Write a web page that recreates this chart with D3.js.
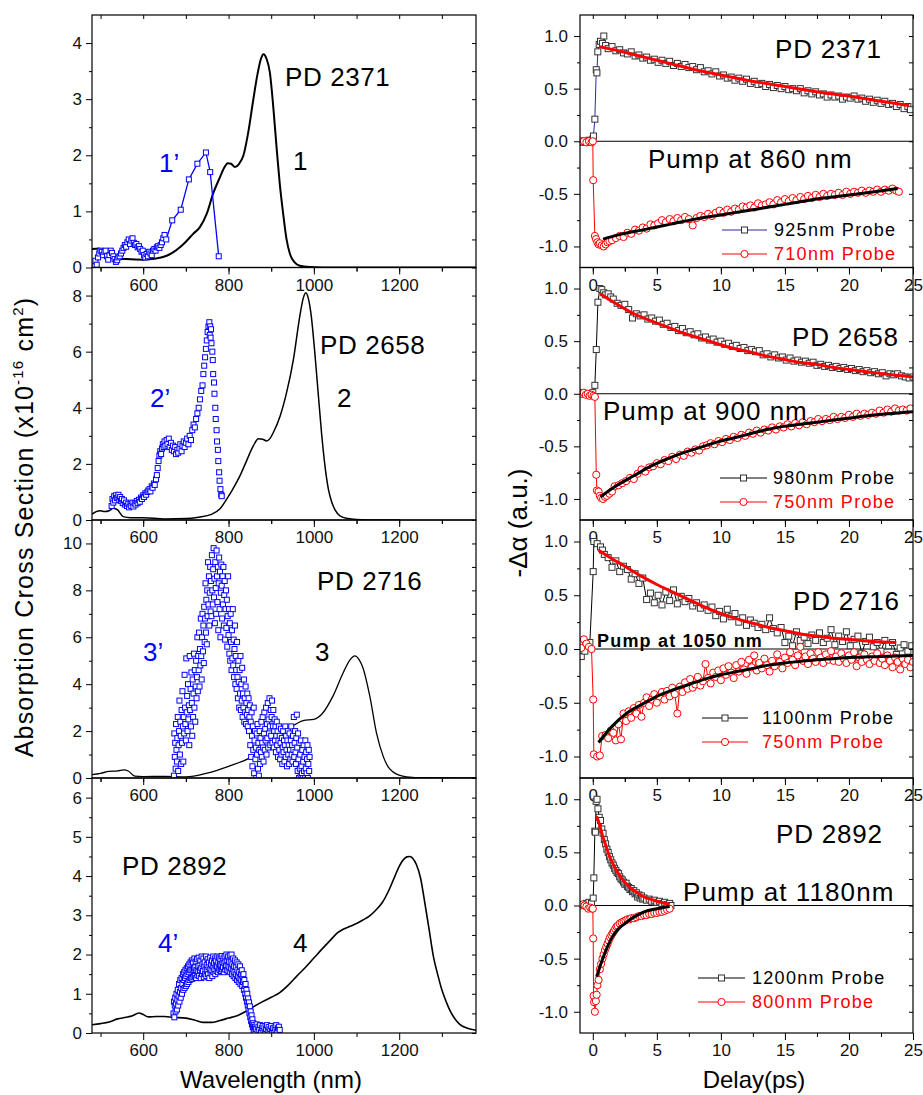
<!DOCTYPE html>
<html>
<head>
<meta charset="utf-8">
<script src="https://cdn.jsdelivr.net/npm/d3@7"></script>
<style>
  body { margin: 0; background: #fff; }
  svg text { font-family: "Liberation Sans", Arial, Helvetica, sans-serif; }
</style>
</head>
<body>
<svg id="chart" width="923" height="1095"></svg>
<script>
// ---------- tick labels ----------
var wavelengthTicks = [600, 800, 1000, 1200];
var wavelengthMinor = [500, 700, 900, 1100, 1300];
var delayTicks = [0, 5, 10, 15, 20, 25];
var delayMinor = [2.5, 7.5, 12.5, 17.5, 22.5];
var absTicks = [[0, 1, 2, 3, 4], [0, 2, 4, 6, 8], [0, 2, 4, 6, 8, 10], [0, 1, 2, 3, 4, 5, 6]];
var absMinor = [[0.5, 1.5, 2.5, 3.5], [1, 3, 5, 7], [1, 3, 5, 7, 9], [0.5, 1.5, 2.5, 3.5, 4.5, 5.5]];
var dAlphaTicks = [-1, -0.5, 0, 0.5, 1];
var dAlphaMinor = [-0.75, -0.25, 0.25, 0.75];

// ---------- linear absorption (black curves), [nm, cross section] ----------
var abs2371 = [[480,0.33],[497,0.34],[505,0.27],[520,0.2],[540,0.16],[560,0.15],[600,0.14],[630,0.16],[655,0.21],[670,0.27],[686,0.36],[700,0.46],[717,0.6],[733,0.72],[749,0.96],[764,1.32],[780,1.61],[790,1.78],[798,1.86],[806,1.85],[815,1.79],[824,1.84],[835,2.0],[846,2.4],[858,2.99],[868,3.45],[876,3.72],[882,3.8],[889,3.72],[897,3.47],[905,2.85],[913,2.1],[920,1.5],[928,0.96],[936,0.5],[944,0.24],[955,0.09],[967,0.03],[990,0.01],[1050,0.0],[1380,0.0]];
var abs2658 = [[480,0.21],[490,0.3],[500,0.33],[510,0.3],[520,0.33],[530,0.42],[540,0.36],[553,0.12],[570,0.08],[600,0.08],[650,0.04],[700,0.05],[730,0.1],[760,0.2],[780,0.4],[796,0.75],[810,1.1],[827,1.58],[842,2.1],[858,2.64],[870,2.9],[880,2.88],[889,2.82],[897,2.9],[905,3.12],[921,3.71],[936,4.54],[952,5.72],[967,7.26],[975,7.9],[981,8.1],[987,7.9],[994,7.26],[1002,6.0],[1010,4.54],[1018,3.1],[1026,1.93],[1034,1.1],[1042,0.63],[1050,0.35],[1061,0.15],[1080,0.05],[1100,0.02],[1150,0.0],[1202,0.0]];
var abs2716 = [[480,0.14],[500,0.2],[520,0.28],[540,0.3],[555,0.35],[565,0.3],[580,0.08],[600,0.06],[650,0.07],[700,0.05],[750,0.21],[800,0.5],[850,0.86],[900,1.5],[950,2.21],[975,2.45],[1000,2.5],[1020,2.75],[1045,3.5],[1069,4.5],[1085,5.05],[1096,5.21],[1106,5.05],[1115,4.7],[1131,3.5],[1147,1.9],[1163,0.9],[1175,0.45],[1186,0.25],[1200,0.12],[1217,0.05],[1260,0.01],[1380,0.0]];
var abs2892 = [[480,0.21],[500,0.24],[520,0.28],[540,0.36],[560,0.4],[575,0.44],[590,0.51],[600,0.47],[612,0.41],[630,0.42],[650,0.42],[670,0.4],[700,0.38],[720,0.33],[740,0.27],[760,0.27],[780,0.32],[800,0.38],[820,0.44],[840,0.55],[860,0.68],[880,0.8],[900,0.91],[920,1.03],[940,1.22],[960,1.45],[980,1.67],[1000,1.91],[1020,2.15],[1040,2.38],[1055,2.55],[1070,2.65],[1085,2.72],[1100,2.79],[1115,2.88],[1130,2.98],[1145,3.13],[1160,3.32],[1175,3.62],[1190,4.0],[1200,4.25],[1210,4.42],[1218,4.49],[1225,4.5],[1232,4.45],[1240,4.3],[1250,3.95],[1260,3.32],[1270,2.65],[1280,1.96],[1290,1.5],[1300,1.1],[1310,0.8],[1320,0.55],[1330,0.37],[1342,0.22],[1360,0.12],[1380,0.07]];

// ---------- excited-state absorption (blue squares), [nm, cross section] ----------
var esa2371 = [[486,0.02],[488,0.12],[491,0.05],[494,0.18],[497,0.25],[500,0.3],[503,0.28],[506,0.22],[509,0.28],[512,0.3],[515,0.2],[518,0.14],[521,0.22],[524,0.3],[527,0.26],[530,0.2],[533,0.15],[536,0.1],[539,0.13],[542,0.18],[545,0.2],[548,0.25],[551,0.3],[554,0.35],[557,0.4],[560,0.37],[563,0.45],[566,0.5],[569,0.42],[572,0.48],[575,0.52],[578,0.44],[581,0.4],[584,0.42],[587,0.36],[590,0.38],[593,0.33],[596,0.28],[599,0.3],[602,0.22],[605,0.18],[608,0.24],[611,0.2],[614,0.28],[617,0.25],[620,0.22],[623,0.3],[626,0.33],[629,0.3],[632,0.36],[635,0.38],[638,0.35],[641,0.4],[644,0.45],[647,0.52],[650,0.58],[654,0.5],[668,0.84],[688,1.03],[707,1.57],[727,1.85],[747,2.05],[757,1.70],[777,0.20]];
var esa2658 = [[526,0.5],[528,0.75],[530,0.62],[532,0.85],[534,0.7],[536,0.88],[538,0.78],[540,0.8],[542,0.9],[544,0.72],[546,0.82],[548,0.68],[550,0.75],[552,0.6],[555,0.7],[557,0.55],[560,0.62],[562,0.5],[565,0.58],[567,0.45],[570,0.55],[572,0.5],[575,0.62],[577,0.48],[580,0.6],[582,0.55],[585,0.68],[587,0.6],[590,0.72],[592,0.65],[595,0.8],[597,0.75],[600,0.88],[602,0.82],[605,0.95],[607,0.9],[610,1.0],[612,1.05],[615,1.1],[617,1.02],[620,1.2],[622,1.15],[625,1.3],[627,1.25],[630,1.45],[632,1.6],[634,1.85],[636,2.1],[638,2.3],[640,2.45],[642,2.35],[644,2.55],[646,2.7],[648,2.6],[650,2.8],[652,2.65],[655,2.85],[657,2.7],[660,2.9],[662,2.6],[665,2.75],[667,2.5],[670,2.65],[672,2.45],[675,2.6],[677,2.35],[680,2.5],[682,2.4],[685,2.55],[687,2.7],[690,2.45],[692,2.65],[695,2.8],[697,2.6],[700,2.75],[703,2.9],[706,2.7],[709,3.0],[712,2.85],[715,3.2],[718,3.4],[721,3.3],[724,3.6],[727,3.8],[730,4.0],[733,4.3],[736,4.6],[739,4.8],[741,5.2],[743,5.5],[745,5.8],[747,6.1],[749,6.4],[751,6.7],[753,6.9],[755,7.05],[756,6.6],[757,6.9],[758,6.5],[759,6.8],[760,6.3],[762,6.0],[763,5.7],[764,5.2],[766,4.9],[767,4.5],[769,4.0],[770,3.6],[772,3.2],[773,2.8],[775,2.5],[776,2.1],[778,1.7],[779,1.4],[781,1.1],[783,0.9],[784,0.85]];
var esa2716 = [[672,0.1],[673,1.9],[674,0.9],[675,1.5],[676,0.4],[677,2.3],[678,1.2],[679,0.7],[680,1.7],[681,2.6],[682,0.3],[683,1.4],[684,2.0],[685,3.3],[686,1.0],[687,2.4],[688,1.8],[689,0.6],[690,2.9],[691,1.5],[692,3.7],[693,2.2],[694,0.7],[695,2.6],[696,1.9],[697,4.4],[698,3.0],[699,2.3],[700,1.6],[701,5.1],[702,2.8],[703,3.5],[704,2.0],[705,4.0],[706,2.5],[707,3.1],[708,1.4],[709,5.2],[710,2.9],[711,3.8],[712,2.2],[713,4.5],[714,3.2],[715,1.8],[716,4.2],[717,2.6],[718,3.6],[719,5.3],[720,3.0],[721,4.6],[722,2.4],[723,3.9],[724,5.0],[725,3.4],[726,4.3],[727,6.0],[728,3.7],[729,5.2],[730,4.6],[731,6.2],[732,3.9],[733,5.5],[734,4.8],[735,6.8],[736,5.2],[737,4.2],[738,6.0],[739,7.0],[740,5.4],[741,6.5],[742,4.9],[743,7.3],[744,5.8],[745,6.8],[746,8.3],[747,6.2],[748,7.6],[749,5.7],[750,8.0],[751,6.9],[752,9.2],[753,7.4],[754,8.6],[755,6.5],[756,7.9],[757,9.0],[758,7.1],[759,8.4],[760,6.9],[761,9.5],[762,8.0],[763,7.4],[764,8.9],[765,9.8],[766,7.7],[767,8.5],[768,6.6],[769,9.2],[770,8.1],[771,7.0],[772,9.7],[773,8.6],[774,7.5],[775,9.0],[776,6.3],[777,8.3],[778,9.4],[779,7.2],[780,8.8],[781,6.0],[782,7.9],[783,9.1],[784,8.2],[785,6.8],[786,8.6],[787,7.4],[788,9.0],[789,6.5],[790,7.8],[791,8.4],[792,5.9],[793,7.2],[794,8.0],[795,6.4],[796,7.6],[797,5.6],[798,6.9],[799,8.6],[800,6.1],[801,7.2],[802,5.3],[803,6.6],[804,5.0],[805,7.0],[806,5.8],[807,4.6],[808,6.3],[809,5.1],[810,7.2],[811,4.8],[812,5.9],[813,4.3],[814,5.5],[815,6.5],[816,4.0],[817,5.2],[818,4.6],[819,3.8],[820,5.8],[821,4.3],[822,3.4],[823,5.0],[824,4.1],[825,3.0],[826,4.6],[827,3.6],[828,5.2],[829,2.9],[830,4.0],[831,3.3],[832,4.7],[833,2.6],[834,3.6],[835,3.0],[836,4.2],[837,2.4],[838,3.4],[839,2.8],[840,3.9],[841,2.3],[842,3.2],[843,2.7],[844,3.6],[845,2.2],[846,2.9],[847,3.4],[848,2.0],[849,2.6],[850,3.1],[851,1.4],[852,2.4],[853,0.9],[854,2.8],[855,1.8],[856,0.5],[857,2.2],[858,1.2],[859,3.0],[860,0.2],[861,1.6],[862,2.0],[863,0.8],[864,1.3],[865,0.0],[866,1.9],[867,1.0],[868,2.3],[869,0.4],[870,1.5],[871,0.1],[872,1.2],[873,2.0],[874,0.6],[875,1.7],[876,1.1],[877,2.4],[878,0.9],[879,1.5],[880,2.6],[881,1.3],[882,0.7],[883,1.9],[884,2.8],[885,1.2],[886,2.1],[887,1.6],[888,3.0],[889,1.0],[890,2.3],[891,1.7],[892,3.2],[893,1.3],[894,2.5],[895,1.9],[896,3.4],[897,2.2],[898,1.4],[899,2.9],[900,1.8],[901,2.6],[902,3.3],[903,1.5],[904,2.2],[905,2.9],[906,1.3],[907,2.0],[908,2.5],[909,1.6],[910,2.2],[911,1.1],[912,1.8],[913,2.4],[914,1.4],[915,2.0],[916,0.9],[917,1.6],[918,2.2],[919,1.2],[920,1.8],[921,0.8],[922,1.5],[923,2.1],[924,1.0],[925,1.7],[926,0.6],[927,1.3],[928,2.0],[929,1.1],[930,1.6],[931,0.7],[932,1.4],[933,2.2],[934,0.9],[935,1.8],[936,1.2],[937,0.5],[938,1.6],[939,2.0],[940,1.0],[941,1.4],[942,0.6],[943,1.9],[944,1.2],[945,0.8],[946,1.6],[947,2.2],[948,1.0],[949,1.4],[950,0.7],[951,1.8],[952,1.2],[953,2.6],[954,0.9],[955,1.5],[956,2.0],[957,1.1],[958,0.6],[959,1.7],[960,2.7],[961,1.3],[962,0.3],[963,1.9],[964,0.8],[965,0.0],[966,1.5],[967,0.4],[968,1.0],[969,0.1],[970,1.6],[971,0.5],[972,0.2],[973,1.2],[974,0.0],[975,0.7],[976,1.4],[977,0.3],[978,0.9],[979,0.0],[980,1.6],[981,0.4],[982,1.1],[983,0.2],[984,0.8],[985,1.4],[986,0.0],[987,0.6],[988,1.2],[989,0.3],[990,0.9]];
var esa2892 = [[671,0.5],[672,0.8],[673,0.4],[674,0.7],[675,0.9],[676,0.55],[677,0.75],[678,1.0],[679,0.6],[680,0.85],[681,1.1],[682,0.7],[683,0.95],[684,1.25],[685,0.8],[686,1.05],[687,1.35],[688,0.9],[689,1.15],[690,1.4],[691,1.0],[692,1.25],[693,1.5],[694,1.1],[695,1.35],[696,1.55],[697,1.15],[698,1.4],[699,1.6],[700,1.2],[701,1.45],[702,1.65],[703,1.25],[704,1.5],[705,1.7],[706,1.3],[707,1.55],[708,1.75],[709,1.35],[710,1.6],[711,1.8],[712,1.4],[713,1.6],[714,1.85],[715,1.38],[716,1.62],[717,1.8],[718,1.42],[719,1.65],[720,1.9],[721,1.45],[722,1.68],[723,1.82],[724,1.4],[725,1.6],[726,1.88],[727,1.47],[728,1.7],[729,1.55],[730,1.92],[731,1.45],[732,1.72],[733,1.6],[734,1.85],[735,1.4],[736,1.66],[737,1.95],[738,1.5],[739,1.75],[740,1.58],[741,1.9],[742,1.42],[743,1.7],[744,1.8],[745,1.5],[746,1.62],[747,1.95],[748,1.45],[749,1.73],[750,1.6],[751,1.88],[752,1.5],[753,1.68],[754,1.8],[755,1.4],[756,1.62],[757,1.92],[758,1.52],[759,1.75],[760,1.6],[761,1.85],[762,1.45],[763,1.7],[764,1.95],[765,1.55],[766,1.78],[767,1.62],[768,1.9],[769,1.5],[770,1.72],[771,1.85],[772,1.58],[773,1.7],[774,1.95],[775,1.55],[776,1.8],[777,1.65],[778,1.92],[779,1.6],[780,1.75],[781,1.88],[782,1.58],[783,1.72],[784,1.96],[785,1.62],[786,1.8],[787,1.68],[788,1.9],[789,1.55],[790,1.78],[791,1.95],[792,1.62],[793,1.82],[794,1.7],[795,2.0],[796,1.6],[797,1.85],[798,1.72],[799,1.95],[800,1.58],[801,1.82],[802,1.68],[803,1.98],[804,1.55],[805,1.8],[806,1.65],[807,2.0],[808,1.5],[809,1.75],[810,1.62],[811,1.9],[812,1.45],[813,1.7],[814,1.55],[815,1.85],[816,1.4],[817,1.68],[818,1.5],[819,1.8],[820,1.35],[821,1.6],[822,1.45],[823,1.75],[824,1.3],[825,1.55],[826,1.4],[827,1.7],[828,1.25],[829,1.5],[830,1.35],[831,1.6],[832,1.2],[833,1.45],[834,1.3],[835,1.5],[836,1.1],[837,1.35],[838,1.2],[839,1.0],[840,1.25],[841,0.9],[842,1.1],[843,0.8],[844,1.0],[845,0.7],[846,0.88],[847,0.6],[848,0.78],[849,0.5],[850,0.68],[851,0.4],[852,0.55],[853,0.3],[854,0.45],[855,0.22],[856,0.35],[857,0.15],[858,0.25],[859,0.08],[860,0.2],[861,0.05],[862,0.15],[864,0.1],[866,0.22],[868,0.04],[870,0.16],[872,0.08],[874,0.2],[876,0.02],[878,0.12],[880,0.18],[882,0.05],[884,0.14],[886,0.0],[888,0.1],[890,0.2],[892,0.06],[894,0.15],[896,0.02],[898,0.1],[900,0.18],[902,0.05],[904,0.12],[906,0.0],[908,0.14],[910,0.08],[912,0.2],[914,0.04],[916,0.12],[918,0.16],[920,0.08]];

// ---------- pump-probe kinetics, [delay ps, -delta alpha] ----------
var sq2371 = [[-0.9,0.0],[-0.75,-0.01],[-0.6,0.0],[-0.45,-0.01],[-0.3,0.01],[-0.15,0.0],[0.0,0.02],[0.05,0.05],[0.16,0.21],[0.27,0.68],[0.32,0.65],[0.39,0.85],[0.5,0.92],[0.6,0.95],[0.75,0.93],[0.86,1.0],[1.0,0.91],[1.2,0.88],[1.5,0.90],[1.8,0.86],[2.1,0.87],[2.4,0.84],[2.7,0.83],[3.0,0.85],[3.3,0.81],[3.6,0.82],[3.9,0.79],[4.2,0.80],[4.5,0.77],[4.8,0.78],[5.1,0.75],[5.4,0.77],[5.7,0.74],[6.0,0.76],[6.3,0.72],[6.6,0.74],[6.9,0.71],[7.2,0.73],[7.5,0.70],[7.8,0.71],[8.1,0.68],[8.4,0.70],[8.7,0.66],[9.0,0.67],[9.3,0.64],[9.6,0.66],[9.9,0.62],[10.2,0.63],[10.5,0.60],[10.8,0.61],[11.1,0.58],[11.4,0.60],[11.7,0.57],[12.0,0.59],[12.3,0.55],[12.6,0.57],[12.9,0.54],[13.2,0.55],[13.5,0.52],[13.8,0.54],[14.1,0.51],[14.4,0.53],[14.7,0.50],[15.0,0.52],[15.3,0.49],[15.6,0.50],[15.9,0.48],[16.2,0.50],[16.5,0.46],[16.8,0.48],[17.1,0.45],[17.4,0.47],[17.7,0.44],[18.0,0.45],[18.3,0.42],[18.6,0.44],[18.9,0.42],[19.2,0.43],[19.5,0.40],[19.8,0.42],[20.1,0.41],[20.4,0.43],[20.7,0.40],[21.0,0.41],[21.3,0.38],[21.6,0.40],[21.9,0.37],[22.2,0.39],[22.5,0.36],[22.8,0.38],[23.1,0.35],[23.4,0.36],[23.7,0.33],[24.0,0.35],[24.3,0.31],[24.6,0.33],[24.8,0.30]];
var ci2371 = [[-0.9,0.0],[-0.7,0.0],[-0.5,-0.01],[-0.3,0.0],[-0.1,-0.01],[0.0,0.0],[0.03,-0.37],[0.16,-0.90],[0.25,-0.93],[0.35,-0.96],[0.45,-0.98],[0.55,-0.97],[0.7,-0.99],[0.85,-1.0],[1.0,-0.98],[1.15,-0.96],[1.3,-0.95],[1.5,-0.94],[1.8,-0.92],[2.1,-0.90],[2.4,-0.91],[2.7,-0.87],[3.0,-0.88],[3.3,-0.84],[3.6,-0.85],[3.9,-0.82],[4.2,-0.83],[4.5,-0.79],[4.8,-0.80],[5.1,-0.78],[5.4,-0.75],[5.7,-0.77],[6.0,-0.74],[6.3,-0.76],[6.6,-0.73],[6.9,-0.75],[7.2,-0.72],[7.5,-0.74],[7.8,-0.80],[8.1,-0.73],[8.4,-0.71],[8.7,-0.72],[9.0,-0.69],[9.3,-0.71],[9.6,-0.68],[9.9,-0.66],[10.2,-0.68],[10.5,-0.65],[10.8,-0.67],[11.1,-0.64],[11.4,-0.65],[11.7,-0.62],[12.0,-0.63],[12.3,-0.61],[12.6,-0.63],[12.9,-0.59],[13.2,-0.61],[13.5,-0.60],[13.8,-0.58],[14.1,-0.60],[14.4,-0.56],[14.7,-0.58],[15.0,-0.55],[15.3,-0.57],[15.6,-0.54],[15.9,-0.56],[16.2,-0.53],[16.5,-0.55],[16.8,-0.52],[17.1,-0.54],[17.4,-0.51],[17.7,-0.53],[18.0,-0.50],[18.3,-0.52],[18.6,-0.50],[18.9,-0.51],[19.2,-0.49],[19.5,-0.51],[19.8,-0.48],[20.1,-0.50],[20.4,-0.48],[20.7,-0.49],[21.0,-0.47],[21.3,-0.49],[21.6,-0.47],[21.9,-0.48],[22.2,-0.46],[22.5,-0.48],[22.8,-0.46],[23.1,-0.47],[23.4,-0.45],[23.7,-0.47],[23.9,-0.48]];
var fitSq2371 = [[0.5,0.90],[2,0.86],[4,0.80],[6,0.74],[8,0.68],[10,0.63],[12,0.58],[14,0.54],[16,0.50],[18,0.46],[20,0.43],[22,0.39],[24.7,0.34]];
var fitCi2371 = [[0.8,-0.93],[2,-0.89],[4,-0.84],[6,-0.79],[8,-0.74],[10,-0.70],[12,-0.66],[14,-0.62],[16,-0.58],[18,-0.54],[20,-0.51],[22,-0.48],[23.8,-0.45]];

var sq2658 = [[-0.9,0.0],[-0.6,0.0],[-0.3,0.0],[0.0,0.01],[0.16,0.08],[0.27,0.42],[0.4,0.87],[0.55,1.0],[0.7,0.99],[0.85,0.96],[1.0,0.94],[1.2,0.95],[1.4,0.92],[1.6,0.90],[1.9,0.86],[2.2,0.84],[2.5,0.85],[2.8,0.80],[3.1,0.72],[3.4,0.76],[3.7,0.74],[4.0,0.75],[4.3,0.71],[4.6,0.72],[4.9,0.69],[5.2,0.70],[5.5,0.66],[5.8,0.67],[6.1,0.63],[6.4,0.64],[6.7,0.60],[7.0,0.62],[7.3,0.58],[7.6,0.59],[7.9,0.56],[8.2,0.57],[8.5,0.53],[8.8,0.54],[9.1,0.51],[9.4,0.52],[9.7,0.49],[10.0,0.50],[10.3,0.47],[10.6,0.48],[10.9,0.45],[11.2,0.46],[11.5,0.43],[11.8,0.44],[12.1,0.41],[12.4,0.42],[12.7,0.40],[13.0,0.41],[13.3,0.37],[13.6,0.38],[13.9,0.35],[14.2,0.37],[14.5,0.34],[14.8,0.35],[15.1,0.32],[15.4,0.34],[15.7,0.31],[16.0,0.32],[16.3,0.30],[16.6,0.31],[16.9,0.29],[17.2,0.30],[17.5,0.27],[17.8,0.28],[18.1,0.26],[18.4,0.27],[18.7,0.25],[19.0,0.26],[19.3,0.24],[19.6,0.25],[19.9,0.23],[20.2,0.24],[20.5,0.22],[20.8,0.23],[21.1,0.21],[21.4,0.22],[21.7,0.20],[22.0,0.21],[22.3,0.19],[22.6,0.20],[22.9,0.17],[23.2,0.19],[23.5,0.18],[23.8,0.19],[24.1,0.17],[24.4,0.16],[24.7,0.15],[25.0,0.16]];
var ci2658 = [[-1.0,0.01],[-0.85,0.0],[-0.7,0.01],[-0.55,-0.01],[-0.4,0.0],[-0.25,-0.02],[-0.1,-0.01],[0.05,-0.02],[0.16,-0.03],[0.27,-0.77],[0.32,-0.92],[0.45,-0.93],[0.55,-0.97],[0.65,-0.99],[0.8,-1.0],[0.95,-0.98],[1.1,-0.97],[1.3,-0.95],[1.5,-0.93],[1.7,-0.88],[2.0,-0.87],[2.3,-0.85],[2.6,-0.83],[2.9,-0.80],[3.2,-0.81],[3.5,-0.76],[3.8,-0.72],[4.1,-0.74],[4.4,-0.70],[4.7,-0.69],[5.0,-0.66],[5.3,-0.67],[5.6,-0.63],[5.9,-0.64],[6.2,-0.60],[6.5,-0.62],[6.8,-0.58],[7.1,-0.59],[7.4,-0.55],[7.7,-0.56],[8.0,-0.53],[8.3,-0.54],[8.6,-0.50],[8.9,-0.49],[9.2,-0.47],[9.5,-0.48],[9.8,-0.45],[10.1,-0.46],[10.4,-0.43],[10.7,-0.44],[11.0,-0.41],[11.3,-0.42],[11.6,-0.39],[11.9,-0.40],[12.2,-0.37],[12.5,-0.38],[12.8,-0.35],[13.1,-0.37],[13.4,-0.34],[13.7,-0.35],[14.0,-0.32],[14.3,-0.34],[14.6,-0.31],[14.9,-0.32],[15.2,-0.29],[15.5,-0.31],[15.8,-0.28],[16.1,-0.30],[16.4,-0.27],[16.7,-0.29],[17.0,-0.26],[17.3,-0.27],[17.6,-0.24],[17.9,-0.26],[18.2,-0.24],[18.5,-0.25],[18.8,-0.22],[19.1,-0.24],[19.4,-0.22],[19.7,-0.23],[20.0,-0.20],[20.3,-0.22],[20.6,-0.19],[20.9,-0.21],[21.2,-0.19],[21.5,-0.20],[21.8,-0.18],[22.1,-0.19],[22.4,-0.16],[22.7,-0.18],[23.0,-0.15],[23.3,-0.17],[23.6,-0.14],[23.9,-0.16],[24.2,-0.15],[24.5,-0.16],[24.8,-0.14]];
var fitSq2658 = [[0.6,0.95],[1.5,0.88],[3.05,0.77],[4.4,0.70],[5.7,0.64],[7,0.58],[8.3,0.53],[9.6,0.48],[11,0.43],[12.2,0.40],[13.5,0.36],[14.8,0.33],[16.1,0.30],[17.4,0.28],[18.8,0.25],[20.1,0.23],[21.4,0.21],[23,0.185],[25,0.16]];
var fitCi2658 = [[0.6,-0.98],[1.5,-0.9],[3.2,-0.78],[4.5,-0.69],[5.8,-0.62],[7.1,-0.56],[8.4,-0.51],[9.7,-0.46],[11,-0.42],[12.3,-0.38],[13.6,-0.34],[14.9,-0.31],[16.2,-0.29],[17.5,-0.27],[18.8,-0.25],[20.1,-0.23],[21.4,-0.21],[23,-0.19],[25,-0.17]];

var sq2716 = [[-0.9,-0.07],[-0.62,-0.02],[-0.44,0.04],[-0.23,0.06],[0.03,0.72],[0.08,1.0],[0.34,0.98],[0.6,0.95],[0.75,0.92],[0.9,0.88],[1.2,0.85],[1.5,0.76],[1.8,0.82],[2.1,0.72],[2.4,0.77],[2.7,0.74],[3.0,0.65],[3.3,0.70],[3.6,0.61],[3.9,0.66],[4.2,0.46],[4.5,0.52],[4.8,0.43],[5.1,0.50],[5.4,0.41],[5.7,0.53],[6.0,0.45],[6.3,0.55],[6.6,0.42],[6.9,0.49],[7.2,0.44],[7.5,0.47],[7.8,0.40],[8.1,0.43],[8.4,0.38],[8.7,0.41],[9.0,0.36],[9.3,0.39],[9.6,0.31],[9.9,0.35],[10.2,0.28],[10.5,0.37],[10.8,0.30],[11.1,0.33],[11.4,0.25],[11.7,0.29],[12.0,0.22],[12.3,0.27],[12.6,0.24],[12.9,0.20],[13.2,0.23],[13.5,0.18],[13.8,0.29],[14.1,0.19],[14.4,0.15],[14.7,0.20],[15.0,0.06],[15.3,0.12],[15.6,0.03],[15.9,0.16],[16.2,0.08],[16.5,0.11],[16.8,0.05],[17.1,0.13],[17.4,0.08],[17.7,0.15],[18.0,0.06],[18.3,0.10],[18.6,0.18],[18.9,0.04],[19.2,0.12],[19.5,0.07],[19.8,0.16],[20.1,0.03],[20.4,0.09],[20.7,0.12],[21.0,-0.04],[21.3,0.07],[21.6,0.11],[21.9,0.02],[22.2,0.06],[22.5,-0.02],[22.8,0.08],[23.1,0.03],[23.4,0.06],[23.7,-0.05],[24.0,0.01],[24.3,0.04],[24.6,-0.02],[24.9,0.03]];
var ci2716 = [[-0.9,0.01],[-0.7,0.09],[-0.5,0.05],[-0.3,0.02],[-0.1,0.0],[0.03,-0.47],[0.08,-0.98],[0.34,-1.0],[0.55,-0.99],[0.73,-0.81],[1.0,-0.80],[1.2,-0.83],[1.4,-0.76],[1.6,-0.78],[1.8,-0.85],[2.0,-0.70],[2.2,-0.84],[2.4,-0.60],[2.6,-0.67],[2.8,-0.58],[3.0,-0.64],[3.2,-0.55],[3.4,-0.60],[3.6,-0.52],[3.8,-0.63],[4.0,-0.50],[4.2,-0.45],[4.4,-0.53],[4.6,-0.47],[4.8,-0.42],[5.0,-0.50],[5.2,-0.44],[5.4,-0.40],[5.6,-0.47],[5.8,-0.39],[6.0,-0.44],[6.2,-0.36],[6.4,-0.42],[6.6,-0.60],[6.8,-0.35],[7.0,-0.40],[7.2,-0.31],[7.4,-0.37],[7.6,-0.28],[7.8,-0.36],[8.0,-0.33],[8.2,-0.26],[8.4,-0.34],[8.6,-0.30],[8.8,-0.14],[9.0,-0.27],[9.2,-0.32],[9.4,-0.22],[9.6,-0.26],[9.8,-0.20],[10.0,-0.29],[10.2,-0.18],[10.4,-0.24],[10.6,-0.16],[10.8,-0.22],[11.0,-0.27],[11.2,-0.15],[11.4,-0.21],[11.6,-0.12],[11.8,-0.19],[12.0,-0.23],[12.2,-0.10],[12.4,-0.17],[12.6,-0.06],[12.8,-0.20],[13.0,-0.13],[13.2,-0.18],[13.4,-0.09],[13.6,-0.15],[13.8,-0.21],[14.0,-0.11],[14.2,-0.16],[14.4,-0.05],[14.6,-0.12],[14.8,-0.18],[15.0,-0.08],[15.2,-0.13],[15.4,-0.03],[15.6,-0.10],[15.8,-0.15],[16.0,-0.06],[16.2,0.02],[16.4,-0.11],[16.6,-0.07],[16.8,-0.14],[17.0,-0.04],[17.2,-0.09],[17.4,-0.12],[17.6,-0.03],[17.8,-0.08],[18.0,-0.13],[18.2,-0.05],[18.4,-0.10],[18.6,-0.02],[18.8,-0.11],[19.0,-0.07],[19.2,-0.12],[19.4,-0.04],[19.6,-0.09],[19.8,-0.13],[20.0,-0.06],[20.2,-0.10],[20.4,-0.03],[20.6,-0.16],[20.8,-0.08],[21.0,-0.12],[21.2,-0.05],[21.4,-0.10],[21.6,-0.14],[21.8,-0.07],[22.0,-0.11],[22.2,-0.04],[22.4,-0.13],[22.6,-0.09],[22.8,-0.15],[23.0,-0.06],[23.2,-0.11],[23.4,-0.17],[23.6,-0.08],[23.8,-0.12],[24.0,-0.19],[24.2,-0.09],[24.4,-0.14],[24.6,-0.10],[24.8,-0.17],[25.0,-0.12]];
var fitSq2716 = [[0.45,0.92],[1.5,0.84],[2.5,0.77],[3.75,0.68],[5,0.60],[6.25,0.53],[7.5,0.46],[8.75,0.39],[10,0.33],[11.25,0.28],[12.5,0.24],[13.75,0.20],[15,0.17],[16.25,0.14],[17.5,0.12],[18.75,0.10],[20,0.09],[21.8,0.07],[23.7,0.06]];
var fitCi2716 = [[0.45,-0.87],[1.5,-0.72],[2.5,-0.61],[3.75,-0.52],[5,-0.44],[6.25,-0.38],[7.5,-0.33],[8.75,-0.28],[10,-0.24],[11.25,-0.21],[12.5,-0.18],[13.75,-0.15],[15,-0.13],[16.25,-0.115],[17.5,-0.10],[18.75,-0.09],[20,-0.08],[22.5,-0.07],[25,-0.06]];

var sq2892 = [[-0.9,0.0],[-0.7,0.01],[-0.5,0.02],[-0.3,0.03],[-0.1,0.02],[0.03,0.07],[0.08,0.26],[0.16,0.70],[0.2,0.69],[0.26,0.98],[0.33,1.0],[0.4,0.91],[0.5,0.83],[0.6,0.80],[0.7,0.72],[0.8,0.68],[0.9,0.62],[1.0,0.58],[1.1,0.53],[1.2,0.50],[1.3,0.46],[1.4,0.43],[1.5,0.40],[1.6,0.38],[1.7,0.35],[1.8,0.33],[1.9,0.31],[2.0,0.30],[2.1,0.27],[2.2,0.25],[2.3,0.24],[2.4,0.22],[2.5,0.20],[2.6,0.21],[2.7,0.18],[2.8,0.17],[2.9,0.15],[3.0,0.16],[3.1,0.13],[3.2,0.14],[3.3,0.11],[3.4,0.12],[3.5,0.08],[3.6,0.10],[3.7,0.07],[3.8,0.09],[3.9,0.06],[4.0,0.07],[4.2,0.05],[4.4,0.06],[4.6,0.04],[4.8,0.05],[5.0,0.03],[5.2,0.04],[5.4,0.02],[5.6,0.03],[5.8,0.01],[6.0,0.02],[6.1,0.0]];
var ci2892 = [[-0.95,0.0],[-0.8,0.01],[-0.65,0.0],[-0.5,-0.01],[-0.35,-0.03],[-0.2,-0.02],[-0.05,-0.03],[0.0,-0.03],[0.03,-0.31],[0.06,-0.85],[0.1,-0.91],[0.16,-1.0],[0.24,-0.9],[0.3,-0.84],[0.36,-0.75],[0.45,-0.70],[0.55,-0.60],[0.65,-0.55],[0.75,-0.50],[0.85,-0.46],[0.95,-0.42],[1.05,-0.39],[1.15,-0.36],[1.25,-0.33],[1.35,-0.30],[1.45,-0.28],[1.55,-0.26],[1.65,-0.24],[1.75,-0.22],[1.85,-0.20],[1.95,-0.19],[2.1,-0.17],[2.25,-0.16],[2.4,-0.15],[2.55,-0.14],[2.7,-0.13],[2.85,-0.13],[3.0,-0.12],[3.2,-0.12],[3.4,-0.11],[3.6,-0.10],[3.8,-0.10],[4.0,-0.09],[4.2,-0.09],[4.4,-0.08],[4.6,-0.08],[4.8,-0.07],[5.0,-0.07],[5.2,-0.06],[5.4,-0.06],[5.6,-0.05],[5.8,-0.04],[6.0,-0.03]];
var fitSq2892 = [[0.3,0.84],[0.5,0.77],[0.75,0.66],[1,0.57],[1.25,0.48],[1.5,0.41],[1.75,0.35],[2,0.30],[2.5,0.22],[3,0.16],[3.5,0.12],[4,0.08],[4.5,0.06],[5,0.04],[5.5,0.025],[6,0.01]];
var fitCi2892 = [[0.3,-0.67],[0.6,-0.56],[1,-0.43],[1.5,-0.30],[2,-0.22],[2.5,-0.17],[3,-0.125],[3.5,-0.09],[4,-0.06],[5,-0.03],[6,-0.01]];

// ---------- layout ----------
var svg = d3.select("#chart");
svg.append("rect").attr("width", 923).attr("height", 1095).attr("fill", "#fff");

var rows = [[15, 267.5], [267.5, 520], [520, 778], [778, 1033]];
var xLeft = d3.scaleLinear().domain([480, 1380]).range([92, 476]);
var xRight = d3.scaleLinear().domain([-1, 25]).range([580, 913]);
var defs = svg.append("defs");

function styleAxis(sel) {
  sel.select(".domain").remove();
  sel.selectAll(".tick line").attr("stroke", "#000").attr("stroke-width", 1);
  sel.selectAll(".tick text").attr("fill", "#111").style("font-size", "17px")
    .style("font-family", '"Liberation Sans", Arial, sans-serif');
}

function frame(g, x, y, xMaj, xMin, yMaj, yMin, yFmt, yPad) {
  var xa = x.range()[0], xb = x.range()[1], yb = y.range()[0], ya = y.range()[1];
  function add(axis, tx, ty) {
    g.append("g").attr("transform", "translate(" + tx + "," + ty + ")").call(axis).call(styleAxis);
  }
  add(d3.axisBottom(x).tickValues(xMaj).tickSize(7).tickPadding(4).tickFormat(function(d) { return String(d); }), 0, yb);
  add(d3.axisBottom(x).tickValues(xMin).tickSize(4).tickFormat(""), 0, yb);
  add(d3.axisTop(x).tickValues(xMaj.concat(xMin)).tickSize(-4).tickFormat(""), 0, ya);
  add(d3.axisLeft(y).tickValues(yMaj).tickSize(6).tickPadding(yPad).tickFormat(yFmt), xa, 0);
  add(d3.axisLeft(y).tickValues(yMin).tickSize(3).tickFormat(""), xa, 0);
  add(d3.axisRight(y).tickValues(yMaj.concat(yMin)).tickSize(-4).tickFormat(""), xb, 0);
  g.append("rect").attr("x", xa).attr("y", ya).attr("width", xb - xa).attr("height", yb - ya)
    .attr("fill", "none").attr("stroke", "#000").attr("stroke-width", 1.2);
}

function clipFor(id, x, y) {
  defs.append("clipPath").attr("id", id).append("rect")
    .attr("x", x.range()[0]).attr("y", y.range()[1])
    .attr("width", x.range()[1] - x.range()[0]).attr("height", y.range()[0] - y.range()[1]);
  return "url(#" + id + ")";
}

function label(g, txt, x, y, size, color, opts) {
  opts = opts || {};
  return g.append("text").attr("x", x).attr("y", y).text(txt)
    .attr("fill", color).style("font-size", size + "px")
    .style("font-weight", opts.bold ? "bold" : "normal")
    .style("letter-spacing", (opts.ls || 0) + "px");
}

// ---------- left column: absorption spectra ----------
var leftPanels = [
  { abs: abs2371, esa: esa2371, ymax: 4.5, joined: true, lw: 2, name: "PD 2371", nameAt: [285, 86],
    esaTag: "1\u2019", esaAt: [159, 172], absTag: "1", absAt: [293, 170] },
  { abs: abs2658, esa: esa2658, ymax: 9, joined: false, lw: 1.5, name: "PD 2658", nameAt: [320, 354],
    esaTag: "2\u2019", esaAt: [150, 407], absTag: "2", absAt: [337, 407] },
  { abs: abs2716, esa: esa2716, ymax: 11, joined: false, lw: 1.3, name: "PD 2716", nameAt: [317, 590],
    esaTag: "3\u2019", esaAt: [143, 661], absTag: "3", absAt: [315, 661] },
  { abs: abs2892, esa: esa2892, ymax: 6.5, joined: false, lw: 1.6, name: "PD 2892", nameAt: [122, 875],
    esaTag: "4\u2019", esaAt: [158, 952], absTag: "4", absAt: [293, 952] }
];

leftPanels.forEach(function(p, i) {
  var y = d3.scaleLinear().domain([0, p.ymax]).range([rows[i][1], rows[i][0]]);
  var g = svg.append("g");
  var data = g.append("g").attr("clip-path", clipFor("clipL" + i, xLeft, y));
  var line = d3.line().x(function(d) { return xLeft(d[0]); }).y(function(d) { return y(d[1]); });

  data.append("path").datum(p.abs).attr("d", line.curve(d3.curveMonotoneX))
    .attr("fill", "none").attr("stroke", "#000").attr("stroke-width", p.lw);
  if (p.joined) {
    data.append("path").datum(p.esa).attr("d", d3.line().x(function(d) { return xLeft(d[0]); }).y(function(d) { return y(d[1]); }))
      .attr("fill", "none").attr("stroke", "#0000ff").attr("stroke-width", 1.3);
  }
  data.selectAll("rect.m").data(p.esa).enter().append("rect").attr("class", "m")
    .attr("x", function(d) { return xLeft(d[0]) - 2.5; }).attr("y", function(d) { return y(d[1]) - 2.5; })
    .attr("width", 5).attr("height", 5).attr("fill", "#fff").attr("stroke", "#0000ff").attr("stroke-width", 1);

  frame(g, xLeft, y, wavelengthTicks, wavelengthMinor, absTicks[i], absMinor[i], function(d) { return String(d); }, 4);

  label(g, p.name, p.nameAt[0], p.nameAt[1], 26, "#000", { ls: 0.6 });
  label(g, p.esaTag, p.esaAt[0], p.esaAt[1], 26, "#0000ff");
  label(g, p.absTag, p.absAt[0], p.absAt[1], 26, "#000");
});

// ---------- right column: kinetics ----------
var rightPanels = [
  { sq: sq2371, ci: ci2371, fitSq: fitSq2371, fitCi: fitCi2371, sqLine: "#2b2b9a",
    probes: ["925nm Probe", "710nm Probe"], leg: [722, 767, 230, 254, 774],
    name: "PD 2371", nameAt: [775, 58], pump: "Pump at 860 nm", pumpAt: [648, 168], pumpSize: 26, pumpBold: false, pumpLs: 1 },
  { sq: sq2658, ci: ci2658, fitSq: fitSq2658, fitCi: fitCi2658, sqLine: "#000",
    probes: ["980nm Probe", "750nm Probe"], leg: [720, 767, 478, 502, 773],
    name: "PD 2658", nameAt: [792, 346], pump: "Pump at 900 nm", pumpAt: [603, 420], pumpSize: 26, pumpBold: false, pumpLs: 1 },
  { sq: sq2716, ci: ci2716, fitSq: fitSq2716, fitCi: fitCi2716, sqLine: "#000",
    probes: ["1100nm Probe", "750nm Probe"], leg: [702, 748, 718, 742, 762],
    name: "PD 2716", nameAt: [793, 610], pump: "Pump at 1050 nm", pumpAt: [597, 647], pumpSize: 18, pumpBold: true, pumpLs: 1.2 },
  { sq: sq2892, ci: ci2892, fitSq: fitSq2892, fitCi: fitCi2892, sqLine: "#000",
    probes: ["1200nm Probe", "800nm Probe"], leg: [698, 745, 978, 1002, 752],
    name: "PD 2892", nameAt: [776, 843], pump: "Pump at 1180nm", pumpAt: [683, 901], pumpSize: 26, pumpBold: false, pumpLs: 1.1 }
];

function square(sel, x, y, stroke) {
  sel.attr("x", x - 3).attr("y", y - 3).attr("width", 6).attr("height", 6)
    .attr("fill", "#fff").attr("stroke", stroke).attr("stroke-width", 1);
}
function circle(sel, x, y) {
  sel.attr("cx", x).attr("cy", y).attr("r", 3.6)
    .attr("fill", "#fff").attr("stroke", "#ff0000").attr("stroke-width", 1);
}

rightPanels.forEach(function(p, i) {
  var y = d3.scaleLinear().domain([-1.2, 1.2]).range([rows[i][1], rows[i][0]]);
  var g = svg.append("g");
  var data = g.append("g").attr("clip-path", clipFor("clipR" + i, xRight, y));
  var line = d3.line().x(function(d) { return xRight(d[0]); }).y(function(d) { return y(d[1]); });
  var smooth = d3.line().x(function(d) { return xRight(d[0]); }).y(function(d) { return y(d[1]); }).curve(d3.curveMonotoneX);

  data.append("line").attr("x1", xRight.range()[0]).attr("x2", xRight.range()[1])
    .attr("y1", y(0)).attr("y2", y(0)).attr("stroke", "#000").attr("stroke-width", 1);

  data.append("path").datum(p.sq).attr("d", line).attr("fill", "none").attr("stroke", p.sqLine).attr("stroke-width", 1);
  data.append("path").datum(p.ci).attr("d", line).attr("fill", "none").attr("stroke", "#ff0000").attr("stroke-width", 1);

  data.selectAll("rect.s").data(p.sq).enter().append("rect").attr("class", "s")
    .each(function(d) { square(d3.select(this), xRight(d[0]), y(d[1]), "#333"); });
  data.selectAll("circle.c").data(p.ci).enter().append("circle").attr("class", "c")
    .each(function(d) { circle(d3.select(this), xRight(d[0]), y(d[1])); });

  data.append("path").datum(p.fitSq).attr("d", smooth).attr("fill", "none").attr("stroke", "#ff0000").attr("stroke-width", 3);
  data.append("path").datum(p.fitCi).attr("d", smooth).attr("fill", "none").attr("stroke", "#000").attr("stroke-width", 3);

  frame(g, xRight, y, delayTicks, delayMinor, dAlphaTicks, dAlphaMinor, function(d) { return d.toFixed(1); }, 6);

  // legend
  var L = p.leg, mid = (L[0] + L[1]) / 2;
  g.append("line").attr("x1", L[0]).attr("x2", L[1]).attr("y1", L[2]).attr("y2", L[2]).attr("stroke", p.sqLine).attr("stroke-width", 1);
  square(g.append("rect"), mid, L[2], "#333");
  label(g, p.probes[0], L[4], L[2] + 6, 18, "#000", { ls: 1.3 });
  g.append("line").attr("x1", L[0]).attr("x2", L[1]).attr("y1", L[3]).attr("y2", L[3]).attr("stroke", "#ff0000").attr("stroke-width", 1);
  circle(g.append("circle"), mid, L[3]);
  label(g, p.probes[1], L[4], L[3] + 6, 18, "#ff0000", { ls: 1.3 });

  label(g, p.name, p.nameAt[0], p.nameAt[1], 26, "#000", { ls: 0.8 });
  label(g, p.pump, p.pumpAt[0], p.pumpAt[1], p.pumpSize, "#000", { bold: p.pumpBold, ls: p.pumpLs });
});

// ---------- axis titles ----------
var yTitle = svg.append("text").attr("transform", "translate(33,527) rotate(-90)")
  .attr("text-anchor", "middle").style("font-size", "25px").style("letter-spacing", "1.2px").attr("fill", "#000");
yTitle.append("tspan").text("Absorption Cross Section (x10");
yTitle.append("tspan").text("-16").style("font-size", "15px").attr("dy", -10);
yTitle.append("tspan").text(" cm").attr("dy", 10);
yTitle.append("tspan").text("2").style("font-size", "15px").attr("dy", -10);
yTitle.append("tspan").text(")").attr("dy", 10);

svg.append("text").attr("transform", "translate(527,523) rotate(-90)").attr("text-anchor", "middle")
  .style("font-size", "26px").attr("fill", "#000").text("-\u0394\u03b1 (a.u.)");

svg.append("text").attr("x", 271).attr("y", 1088).attr("text-anchor", "middle")
  .style("font-size", "24px").attr("fill", "#000").text("Wavelength (nm)");
svg.append("text").attr("x", 754).attr("y", 1088).attr("text-anchor", "middle")
  .style("font-size", "24px").attr("fill", "#000").text("Delay(ps)");
</script>
</body>
</html>
